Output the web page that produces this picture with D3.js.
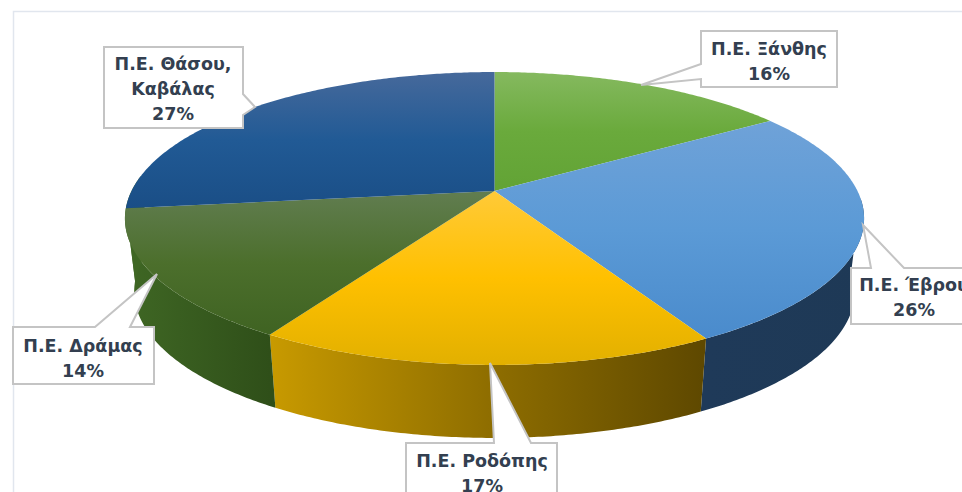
<!DOCTYPE html>
<html>
<head>
<meta charset="utf-8">
<script src="https://cdn.jsdelivr.net/npm/d3@7"></script>
<style>
  html, body { margin: 0; background: #fff; overflow: hidden; }
  svg { display: block; }
  .lab { font-family: "DejaVu Sans", sans-serif; font-weight: bold; font-size: 17.5px; fill: #333f50; text-anchor: middle; }
</style>
</head>
<body>
<svg width="962" height="492"></svg>
<script>
const categories = [["Π.Ε. Ξάνθης"], ["Π.Ε. Έβρου"], ["Π.Ε. Ροδόπης"], ["Π.Ε. Δράμας"], ["Π.Ε. Θάσου,", "Καβάλας"]];
// the labels show them rounded
const values = [15.8, 26.1, 16.8, 14.4, 26.9];
// top face gradient, from back of pie to front
const topColors = [
  ["#85b95f", "#6aaa3c", "#62a335"],
  ["#6fa2d8", "#5b9ad6", "#4a8bcc"],
  ["#ffca38", "#ffc000", "#e2b000"],
  ["#617d50", "#4c6f2c", "#3f6322"],
  ["#46699b", "#215a95", "#1a4e86"]
];
// rim, left to right
const sideColors = [
  ["#3f6b25", "#3f6b25"],
  ["#1f3a59", "#1e3956"],
  ["#c89a00", "#8f6e00", "#5e4800"],
  ["#3f6724", "#2f4f19"],
  ["#3f6724", "#3f6724"]
];

// callouts: box, then the pointer (tip + the two points where it leaves the box)
const callouts = [
  { box: [701, 31, 136, 56], side: "left",  tip: [641, 85],  base: [64, 79], tx: 769, ty: 55 },
  { box: [851, 268, 130, 56], side: "top",  tip: [863, 225], base: [871, 904], tx: 914, ty: 291 },
  { box: [406, 443, 151, 70], side: "top",  tip: [490, 363], base: [494, 531], tx: 482, ty: 467 },
  { box: [13, 327, 141, 57], side: "top",   tip: [157, 274], base: [95, 130], tx: 83, ty: 352 },
  { box: [104, 47, 139, 81], side: "right", tip: [255, 107], base: [94, 115], tx: 173, ty: 70 }
];

const svg = d3.select("svg");
const defs = svg.append("defs");

// disc seen in perspective: pie centre lands at (cx, cy), nearer half is stretched
const cx = 494.5, cy = 191, bx = 363, ay = 141.3, k = -0.1877;
const rimDepth = 73, rimShrink = 0.975;

function project(a) {
  const u = Math.sin(a), v = -Math.cos(a), w = 1 + k * v;
  return [cx + bx * u / w, cy + ay * v / w];
}
function projectLow(a) {
  const p = project(a);
  return [cx + (p[0] - cx) * rimShrink, p[1] + rimDepth];
}

const arcs = d3.pie().sort(null).value(d => d)(values);
const line = d3.line();

function steps(s, e) {
  const n = Math.max(2, Math.ceil((e - s) / 0.01));
  return d3.range(n + 1).map(i => s + (e - s) * i / n);
}

// gradients
arcs.forEach((d, i) => {
  const g = defs.append("linearGradient").attr("id", "top" + i)
    .attr("gradientUnits", "userSpaceOnUse")
    .attr("x1", 0).attr("x2", 0);
  const ys = steps(d.startAngle, d.endAngle).map(a => project(a)[1]).concat(cy);
  g.attr("y1", d3.min(ys)).attr("y2", d3.max(ys));
  topColors[i].forEach((c, j, all) => g.append("stop").attr("offset", j / (all.length - 1)).attr("stop-color", c));

  const s = defs.append("linearGradient").attr("id", "side" + i)
    .attr("gradientUnits", "userSpaceOnUse")
    .attr("y1", 0).attr("y2", 0);
  const xs = steps(d.startAngle, d.endAngle).map(a => project(a)[0]);
  s.attr("x1", d3.min(xs)).attr("x2", d3.max(xs));
  sideColors[i].forEach((c, j, all) => s.append("stop").attr("offset", j / (all.length - 1)).attr("stop-color", c));
});

// frame
svg.append("path").attr("d", "M962,11.5H13.5V492")
  .attr("fill", "none").attr("stroke", "#e1e6ee").attr("stroke-width", 1.5);

// rim, only the part facing us (from the rightmost to the leftmost point)
const frontStart = 1.62, frontEnd = 4.82;
svg.append("g").selectAll("path")
  .data(arcs.filter(d => d.endAngle > frontStart && d.startAngle < frontEnd))
  .join("path")
  .attr("fill", d => `url(#side${d.index})`)
  .attr("d", d => {
    const as = steps(Math.max(d.startAngle, frontStart), Math.min(d.endAngle, frontEnd));
    return line(as.map(project).concat(as.slice().reverse().map(projectLow))) + "Z";
  });

// top face
svg.append("g").selectAll("path")
  .data(arcs)
  .join("path")
  .attr("fill", d => `url(#top${d.index})`)
  .attr("d", d => line([[cx, cy]].concat(steps(d.startAngle, d.endAngle).map(project))) + "Z");

// labels
const labels = svg.append("g");
const pct = d3.format(".0f");
callouts.forEach((c, i) => {
  const [x, y, w, h] = c.box;
  let pts;
  if (c.side === "top") {
    pts = [[x, y], [c.base[0], y], c.tip, [c.base[1], y], [x + w, y], [x + w, y + h], [x, y + h]];
  } else if (c.side === "left") {
    pts = [[x, y], [x + w, y], [x + w, y + h], [x, y + h], [x, c.base[1]], c.tip, [x, c.base[0]]];
  } else {
    pts = [[x, y], [x + w, y], [x + w, c.base[0]], c.tip, [x + w, c.base[1]], [x + w, y + h], [x, y + h]];
  }
  labels.append("path").attr("d", line(pts) + "Z")
    .attr("fill", "#fff").attr("stroke", "#c4c4c4").attr("stroke-width", 2);
  const t = labels.append("text").attr("class", "lab");
  categories[i].concat(pct(values[i]) + "%").forEach((s, j) =>
    t.append("tspan").attr("x", c.tx).attr("y", c.ty + j * 24.8).text(s));
});
</script>
</body>
</html>
